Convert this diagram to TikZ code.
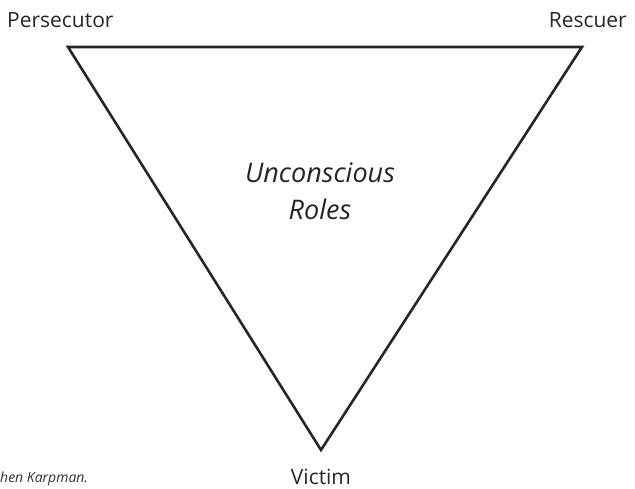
\documentclass[tikz,border=0pt]{standalone}
\usepackage{fontspec}
\setmainfont{Open Sans}
\begin{document}
\begin{tikzpicture}[x=1pt,y=-1pt,
  role/.style={font=\fontsize{21}{25}\selectfont, text=black!85, inner sep=0pt},
  centre/.style={font=\fontsize{27}{37}\selectfont\itshape, text=black!85, align=center, inner sep=0pt},
  credit/.style={font=\fontsize{14}{16}\selectfont\itshape, text=black!80, inner sep=0pt},
  edge/.style={line width=2.6pt, draw=black!85, line join=miter}]
  \useasboundingbox (0,0) rectangle (635,489);
  % triangle corners
  \coordinate (P) at (68,47);
  \coordinate (R) at (582,47);
  \coordinate (V) at (321,450);
  \draw[edge] (P) -- (R) -- (V) -- cycle;
  % labels
  \node[role, anchor=base west] (persecutor) at (7,28) {Persecutor};
  \node[role, anchor=base east] (rescuer) at (627,28) {Rescuer};
  \node[role, anchor=base] (victim) at (321,484) {Victim};
  \node[centre, anchor=base] (roles) at (320,220) {Unconscious\\Roles};
  \node[credit, anchor=base west] (credit) at (0,482) {hen Karpman.};
\end{tikzpicture}
\end{document}
